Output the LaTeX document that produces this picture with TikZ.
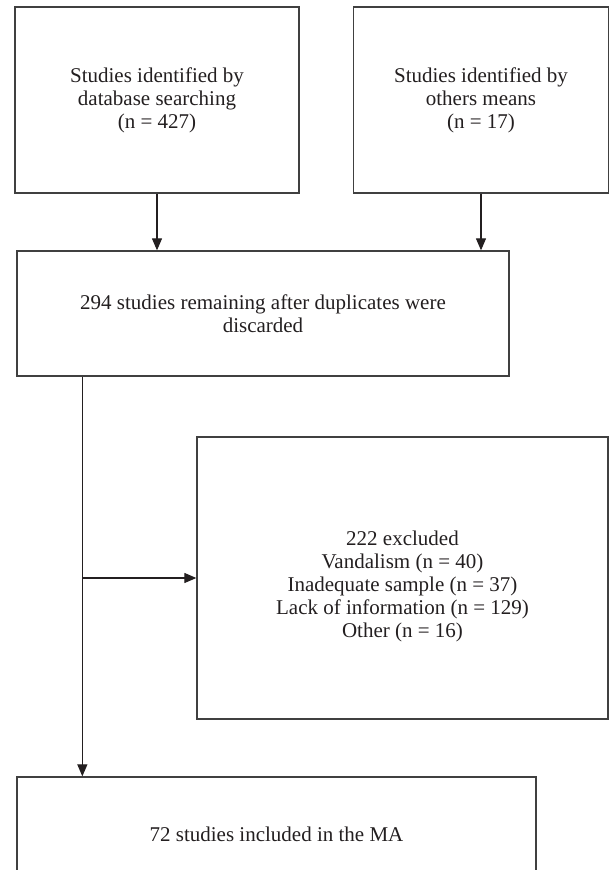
\documentclass[tikz,border=0pt]{standalone}
\usepackage{fontspec}
\setmainfont{Liberation Serif}
\usetikzlibrary{arrows.meta,calc}
\definecolor{ink}{HTML}{231F20}
\definecolor{edge}{HTML}{404040}
\tikzset{
  box/.style={draw=edge, line width=1.3pt, fill=none, inner sep=0pt, anchor=center,
    align=center, text=ink, font=\fontsize{21}{23}\selectfont},
  txt/.style={inner sep=0pt, anchor=center, align=center, text=ink, font=\fontsize{21}{23}\selectfont},
  arr/.style={draw=ink, line width=1.2pt, -{Triangle[length=12pt,width=10pt]}},
  ln/.style={draw=ink, line width=1.2pt}
}
\begin{document}
\begin{tikzpicture}[x=1pt,y=-1pt]
\useasboundingbox (0,0) rectangle (609,870);
\node[box, minimum width=284pt, minimum height=186pt] (b1) at (157,100)
  {Studies identified by\\database searching\\(n = 427)};
\node[box, minimum width=255pt, minimum height=186pt] (b2) at (481,100)
  {Studies identified by\\others means\\(n = 17)};
\node[box, minimum width=492pt, minimum height=125pt] (b3) at (263,313.5)
  {294 studies remaining after duplicates were\\discarded};
\node[box, minimum width=411pt, minimum height=282pt] (b4) at (402.5,578) {};
\node[txt] (t4) at (402.5,586)
  {222 excluded\\Vandalism (n = 40)\\Inadequate sample (n = 37)\\Lack of information (n = 129)\\Other (n = 16)};
\node[box, minimum width=519pt, minimum height=114pt] (b5) at (276.5,834)
  {72 studies included in the MA};
\draw[arr] (b1.south) -- (b1.south |- b3.north);
\draw[arr] (b2.south) -- (b2.south |- b3.north);
\coordinate (j) at ([xshift=66pt]b3.south west);
\draw[arr] (j) -- (j |- b5.north);
\draw[arr] (j |- b4.west) -- (b4.west);
\end{tikzpicture}
\end{document}
